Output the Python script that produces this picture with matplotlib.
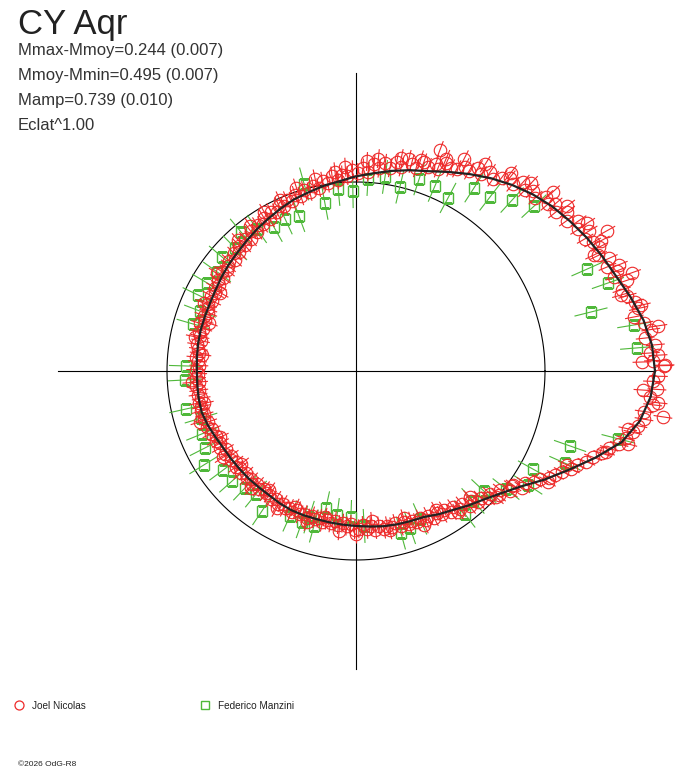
'''
CY Aqr light curve drawn in polar form:
angle = phase, radius = flux relative to the mean magnitude (circle = Mmoy)
'''

import numpy as np
import matplotlib
matplotlib.use("Agg")
import matplotlib.pyplot as plt
from matplotlib.lines import Line2D

plt.rcParams['font.family'] = ['Liberation Sans', 'DejaVu Sans']

star = "CY Aqr"
info = ["Mmax-Mmoy=0.244 (0.007)",
        "Mmoy-Mmin=0.495 (0.007)",
        "Mamp=0.739 (0.010)",
        "Eclat^1.00"]
mmoy_mmin = 0.495

# fitted curve, angle in degrees (0 = right, counter clockwise) and relative flux
fit_deg = [0, 5, 10, 15, 20, 25, 30, 35, 40, 45, 50, 55, 60, 65, 70, 75, 80, 85,
           90, 95, 100, 105, 110, 115, 120, 125, 130, 135, 140, 145, 150, 155, 160, 165,
           170, 175, 180, 185, 190, 195, 200, 205, 210, 215, 220, 225, 230, 235, 240, 245,
           250, 255, 260, 265, 270, 275, 280, 285, 290, 295, 300, 305, 310, 315, 320, 325,
           330, 335, 340, 345, 350, 355, 360]
fit_flux = [1.582, 1.572, 1.545, 1.505, 1.465, 1.437, 1.410, 1.382, 1.355, 1.322, 1.285, 1.245,
            1.203, 1.162, 1.125, 1.100, 1.075, 1.050, 1.030, 1.008, 0.994, 0.978, 0.965, 0.947,
            0.930, 0.915, 0.900, 0.887, 0.878, 0.868, 0.858, 0.852, 0.850, 0.850, 0.848, 0.845,
            0.842, 0.843, 0.845, 0.845, 0.835, 0.822, 0.812, 0.808, 0.805, 0.804, 0.802, 0.802,
            0.808, 0.812, 0.812, 0.811, 0.813, 0.816, 0.820, 0.826, 0.834, 0.840, 0.845, 0.852,
            0.875, 0.897, 0.928, 0.960, 1.005, 1.065, 1.150, 1.240, 1.345, 1.455, 1.525, 1.565,
            1.582]

# Joel Nicolas
joel_deg = [1.0, 2.0, 3.5, 5.0, 6.5, 8.0, 9.5, 11.0, 12.5, 14.0, 15.5, 17.0, 18.5, 20.0,
            21.0, 22.5, 24.0, 25.5, 27.0, 28.5, 30.0, 31.0, 32.5, 34.0, 35.5, 37.0, 38.5,
            40.0, 41.0, 42.5, 44.0, 45.5, 47.0, 48.5, 50.0, 51.5, 53.0, 54.5, 56.0, 57.5,
            59.0, 60.5, 62.0, 63.5, 65.0, 66.5, 68.0, 69.0, 70.5, 72.0, 73.5, 75.0, 76.0,
            77.5, 79.0, 80.5, 82.0, 83.5, 85.0, 86.5, 88.0, 89.5, 91.0, 92.5, 94.0, 95.5,
            97.0, 98.5, 100.0, 101.5, 103.0, 104.5, 106.0, 107.5, 109.0, 110.5, 112.0, 113.5,
            115.0, 116.5, 118.0, 119.5, 121.0, 122.5, 124.0, 125.5, 127.0, 128.5, 130.0, 131.5,
            133.0, 134.5, 136.0, 137.5, 139.0, 140.5, 142.0, 143.5, 145.0, 146.5, 148.0, 149.5,
            151.0, 152.5, 154.0, 155.5, 157.0, 158.5, 160.0, 161.5, 163.0, 164.5, 166.0, 167.5,
            169.0, 170.5, 172.0, 173.5, 175.0, 176.5, 178.0, 179.5, 181.0, 182.5, 184.0, 185.5,
            187.0, 188.5, 190.0, 191.5, 193.0, 194.5, 196.0, 197.5, 199.0, 200.5, 202.0, 203.5,
            205.0, 206.5, 208.0, 209.5, 211.0, 212.5, 214.0, 215.5, 217.0, 218.5, 220.0, 221.5,
            223.0, 224.5, 226.0, 227.5, 229.0, 230.5, 232.0, 233.5, 235.0, 236.5, 238.0, 239.5,
            241.0, 242.5, 244.0, 245.5, 247.0, 248.5, 250.0, 251.5, 253.0, 254.5, 256.0, 257.5,
            259.0, 260.5, 262.0, 263.5, 265.0, 266.5, 268.0, 269.5, 271.0, 272.5, 274.0, 275.5,
            277.0, 278.5, 280.0, 281.5, 283.0, 284.5, 286.0, 287.5, 289.0, 290.5, 292.0, 293.5,
            295.0, 296.5, 298.0, 299.5, 301.0, 302.5, 304.0, 305.5, 307.0, 308.5, 310.0, 311.5,
            313.0, 314.5, 316.0, 317.5, 319.0, 320.5, 322.0, 323.5, 325.0, 326.5, 328.0, 329.5,
            331.0, 332.5, 334.0, 335.5, 337.0, 338.5, 340.0, 341.5, 343.0, 344.5, 346.0, 347.5,
            349.0, 350.5, 352.0, 353.5, 355.0, 356.5, 358.0, 359.0,
            1.1, 1.8, 8.5, 19.6, 29.2, 32.6, 42.3, 69.2, 351.5, 354.0, 356.2,
            58, 63, 67, 73, 78, 84, 87, 93, 96, 102, 108, 114, 120, 126, 132, 47, 52, 38, 28,
            145, 150, 156, 162, 168, 174, 184, 192, 198, 206, 213, 219,
            228, 234, 240, 246, 252, 258, 264, 270, 276, 282, 288, 294, 300, 306, 312,
            318, 324, 330, 336, 342, 348, 345, 3, 13, 16, 22, 26]
joel_flux = [1.630, 1.575, 1.560, 1.590, 1.540, 1.575, 1.545, 1.500, 1.530, 1.520, 1.490, 1.470,
             1.510, 1.455, 1.480, 1.440, 1.465, 1.420, 1.445, 1.425, 1.400, 1.440, 1.395, 1.420,
             1.370, 1.400, 1.350, 1.375, 1.345, 1.365, 1.320, 1.335, 1.310, 1.335, 1.290, 1.305,
             1.280, 1.250, 1.270, 1.235, 1.250, 1.215, 1.225, 1.195, 1.185, 1.200, 1.155, 1.175,
             1.145, 1.160, 1.120, 1.135, 1.155, 1.105, 1.125, 1.090, 1.110, 1.080, 1.100, 1.055,
             1.075, 1.050, 1.065, 1.035, 1.040, 1.015, 1.040, 1.005, 1.020, 0.990, 1.005, 0.980,
             0.995, 0.970, 0.985, 0.960, 0.975, 0.950, 0.965, 0.940, 0.955, 0.925, 0.945, 0.920,
             0.930, 0.905, 0.925, 0.895, 0.910, 0.890, 0.905, 0.880, 0.895, 0.870, 0.890, 0.875,
             0.865, 0.880, 0.860, 0.875, 0.855, 0.868, 0.850, 0.865, 0.845, 0.860, 0.848, 0.840,
             0.858, 0.845, 0.862, 0.840, 0.855, 0.845, 0.838, 0.855, 0.842, 0.835, 0.850, 0.840,
             0.832, 0.848, 0.838, 0.845, 0.835, 0.850, 0.838, 0.845, 0.832, 0.850, 0.840, 0.848,
             0.835, 0.845, 0.828, 0.840, 0.822, 0.835, 0.815, 0.830, 0.812, 0.825, 0.805, 0.820,
             0.800, 0.815, 0.798, 0.812, 0.800, 0.815, 0.795, 0.810, 0.798, 0.812, 0.795, 0.808,
             0.792, 0.805, 0.798, 0.812, 0.800, 0.815, 0.802, 0.818, 0.805, 0.818, 0.800, 0.815,
             0.805, 0.818, 0.800, 0.812, 0.803, 0.820, 0.805, 0.815, 0.800, 0.818, 0.808, 0.822,
             0.812, 0.840, 0.835, 0.818, 0.840, 0.822, 0.845, 0.828, 0.850, 0.835, 0.845, 0.832,
             0.855, 0.840, 0.858, 0.845, 0.862, 0.850, 0.872, 0.855, 0.878, 0.865, 0.885, 0.870,
             0.900, 0.885, 0.915, 0.900, 0.935, 0.920, 0.950, 0.940, 0.970, 0.960, 1.000, 0.990,
             1.035, 1.025, 1.075, 1.070, 1.110, 1.130, 1.165, 1.190, 1.215, 1.250, 1.270, 1.310,
             1.335, 1.375, 1.400, 1.445, 1.470, 1.500, 1.520, 1.545, 1.540, 1.580, 1.560, 1.595,
             1.570, 1.600,
             1.635, 1.514, 1.615, 1.550, 1.521, 1.451, 1.408, 1.251, 1.642, 1.607, 1.522,
             1.290, 1.260, 1.220, 1.170, 1.150, 1.130, 1.110, 1.080, 1.060, 1.040, 1.020, 0.990,
             0.970, 0.950, 0.930, 1.360, 1.330, 1.420, 1.470,
             0.900, 0.830, 0.880, 0.820, 0.870, 0.820, 0.870, 0.820, 0.870, 0.800, 0.840, 0.780,
             0.830, 0.780, 0.840, 0.790, 0.840, 0.790, 0.850, 0.860, 0.800, 0.860, 0.820, 0.890,
             0.850, 0.920, 0.900,
             1.000, 1.030, 1.170, 1.220, 1.390, 1.470, 1.490, 1.600, 1.550, 1.460, 1.500, 1.400]
joel_err = 0.05

# Federico Manzini
fede_deg = [105.5, 100.5, 95.6, 91.0, 86.4, 81.5, 76.6, 71.8, 66.9, 62.0, 57.2, 52.4, 47.6,
            42.8, 110.2, 115.0, 119.7, 124.9, 23.8, 19.25, 14.1, 9.4, 4.7, 345.5, 340.7, 336.2,
            331.0, 326.5, 321.8, 316.8, 312.0, 307.3, 293.4, 289.0, 285.5, 273.0, 268.0, 262.5,
            257.6, 252.2, 254.8, 250.3, 245.5, 236.1, 230.9, 226.5, 221.6, 216.7, 211.7, 207.0,
            202.2, 196.9, 192.6, 183.0, 178.3, 163.9, 159.0, 154.3, 149.4, 144.5, 139.6, 134.5,
            129.6]
fede_flux = [1.027, 0.904, 0.968, 0.952, 1.018, 1.038, 1.001, 1.069, 1.064, 1.037, 1.152, 1.162,
             1.225, 1.284, 0.874, 0.888, 0.877, 0.916, 1.336, 1.412, 1.282, 1.491, 1.492, 1.432,
             1.200, 1.208, 1.070, 1.092, 1.010, 0.928, 0.925, 0.951, 0.853, 0.878, 0.890, 0.821,
             0.773, 0.768, 0.742, 0.812, 0.850, 0.849, 0.843, 0.892, 0.839, 0.853, 0.877, 0.877,
             0.946, 0.897, 0.880, 0.857, 0.922, 0.906, 0.900, 0.898, 0.884, 0.928, 0.916, 0.903,
             0.931, 0.913, 0.955]
fede_err = 0.09

red = "#ee2a2a"
green = "#4fb83a"

fig = plt.figure(figsize=(6.88, 7.68), dpi=100)
rmax = 1.7
cx, cy, unit = 356, 371, 189   # pixel centre and radius of the mean circle
half = rmax * unit
ax = fig.add_axes([(cx - half) / 688, (768 - cy - half) / 768, 2 * half / 688, 2 * half / 768],
                  projection="polar")
ax.set_rlim(0, rmax)
ax.set_axis_off()

# cross and mean circle
arm = 10 ** (0.4 * mmoy_mmin)
for a in [0, 90, 180, 270]:
    ax.plot([np.radians(a), np.radians(a)], [0, arm], color="black", lw=0.8)
circ = np.linspace(0, 2 * np.pi, 400)
ax.plot(circ, np.ones_like(circ), color="black", lw=0.8)

t = np.radians(fede_deg)
ax.vlines(t, np.array(fede_flux) - fede_err, np.array(fede_flux) + fede_err, color=green, lw=0.8)
ax.plot(t, fede_flux, "s", ms=7, mfc="none", mec=green, mew=1.0)

t = np.radians(joel_deg)
ax.vlines(t, np.array(joel_flux) - joel_err, np.array(joel_flux) + joel_err, color=red, lw=0.8)
ax.plot(t, joel_flux, "o", ms=9, mfc="none", mec=red, mew=0.8)

ax.plot(np.radians(fit_deg), fit_flux, color="#222222", lw=1.6)

# texts
fig.text(18 / 688, 1 - 34 / 768, star, fontsize=25, color="#222222", va="baseline")
for i, s in enumerate(info):
    fig.text(18 / 688, 1 - (55 + 25 * i) / 768, s, fontsize=12, color="#333333", va="baseline")

# legend
fig.add_artist(Line2D([19 / 688], [1 - 705 / 768], marker="o", ms=6.5, mfc="none",
                      mec=red, mew=0.9, ls="none", transform=fig.transFigure))
fig.text(32 / 688, 1 - 709 / 768, "Joel Nicolas", fontsize=7.2, color="#222222", va="baseline")
fig.add_artist(Line2D([205 / 688], [1 - 705 / 768], marker="s", ms=6, mfc="none",
                      mec=green, mew=1.0, ls="none", transform=fig.transFigure))
fig.text(218 / 688, 1 - 709 / 768, "Federico Manzini", fontsize=7.2, color="#222222", va="baseline")
fig.text(18 / 688, 1 - 766 / 768, "\u00a92026 OdG-R8", fontsize=6, color="#222222", va="baseline")

fig.savefig("out.png", dpi=100)
